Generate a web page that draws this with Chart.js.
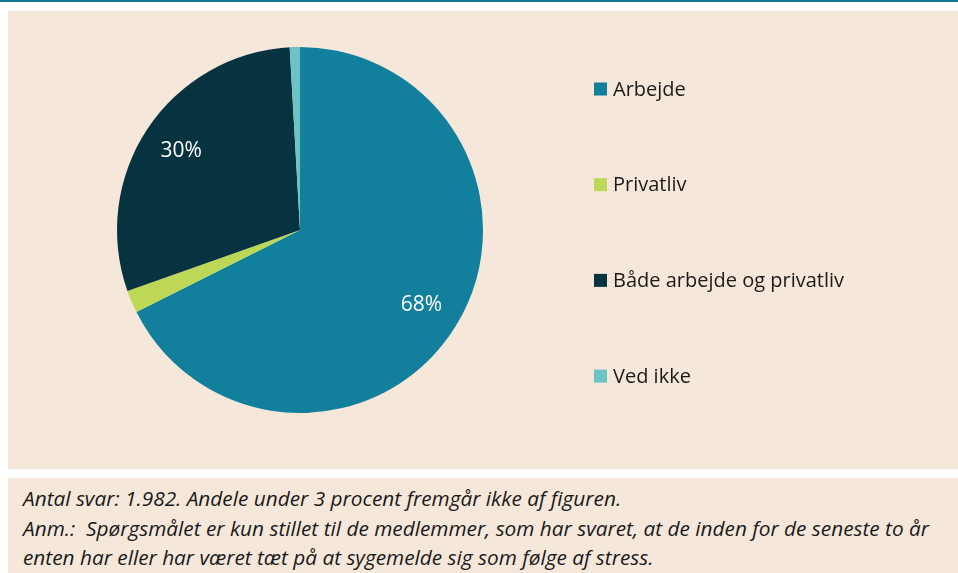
<!DOCTYPE html>
<html>
<head>
<meta charset="utf-8">
<script src="https://cdn.jsdelivr.net/npm/chart.js@4.4.1/dist/chart.umd.min.js"></script>
<style>
  body { margin: 0; background: #ffffff; font-family: "Open Sans", sans-serif; }
  #topline { position: absolute; left: 0; top: 0; width: 958px; height: 2px; background: #13798f; }
  #panel { position: absolute; left: 8px; top: 11px; width: 950px; height: 458px; background: #f5e8db; }
  #note { position: absolute; left: 8px; top: 478px; width: 950px; height: 95px; background: #f5e8db; white-space: nowrap;
          font-style: italic; font-size: 20.8px; line-height: 29.5px; color: #1a1a1a; box-sizing: border-box; padding: 6px 0 0 15px; }
</style>
</head>
<body>
<div id="topline"></div>
<div id="panel"><canvas id="myChart"></canvas></div>
<div id="note">Antal svar: 1.982. Andele under 3 procent fremgår ikke af figuren.<br>Anm.:&nbsp; Spørgsmålet er kun stillet til de medlemmer, som har svaret, at de inden for de seneste to år<br>enten har eller har været tæt på at sygemelde sig som følge af stress.</div>
<script>
// data (procent)
const categories = ['Arbejde', 'Privatliv', 'Både arbejde og privatliv', 'Ved ikke'];
const shares = [67.6, 2.0, 29.5, 0.9];
const colors = ['#127f9c', '#bdd857', '#073340', '#6cc3c6'];
const labelMin = 3; // andele under 3 procent vises ikke

window.addEventListener('DOMContentLoaded', () => {
    var ctx = document.getElementById('myChart').getContext('2d');
    ctx.canvas.width = 950;
    ctx.canvas.height = 458;

    // percent labels inside slices
    const sliceLabels = {
        id: 'sliceLabels',
        afterDatasetsDraw(chart) {
            const c = chart.ctx;
            const meta = chart.getDatasetMeta(0);
            c.save();
            c.fillStyle = '#ffffff';
            c.font = '21px "Open Sans"';
            c.textAlign = 'center';
            c.textBaseline = 'middle';
            meta.data.forEach((arc, i) => {
                const v = shares[i];
                if (v < labelMin) return;
                const p = arc.getProps(['x', 'y', 'startAngle', 'endAngle', 'outerRadius']);
                const mid = (p.startAngle + p.endAngle) / 2;
                const d = p.outerRadius * 0.78;
                c.fillText(Math.round(v) + '%', p.x + Math.cos(mid) * d, p.y + Math.sin(mid) * d);
            });
            c.restore();
        }
    };

    // legend column on the right, wide spacing like the original
    const sideLegend = {
        id: 'sideLegend',
        afterDraw(chart) {
            const c = chart.ctx;
            const items = Chart.overrides.pie.plugins.legend.labels.generateLabels(chart);
            const x0 = 586, y0 = 78, step = 95.7, box = 13;
            c.save();
            c.font = '20px "Open Sans"';
            c.textBaseline = 'middle';
            c.textAlign = 'left';
            items.forEach((it, i) => {
                const y = y0 + i * step;
                c.fillStyle = it.fillStyle;
                c.fillRect(x0, y - box / 2, box, box);
                c.fillStyle = '#1a1a1a';
                c.fillText(it.text, x0 + box + 6, y + 1);
            });
            c.restore();
        }
    };

    new Chart(ctx, {
        type: 'pie',
        data: {
            labels: categories,
            datasets: [{
                data: shares,
                backgroundColor: colors,
                borderWidth: 0
            }]
        },
        options: {
            responsive: false,
            animation: false,
            layout: { padding: { left: 109, right: 475, top: 36, bottom: 56 } },
            plugins: {
                tooltip: { enabled: false },
                legend: { display: false }
            }
        },
        plugins: [sliceLabels, sideLegend]
    });
});
</script>
</body>
</html>
